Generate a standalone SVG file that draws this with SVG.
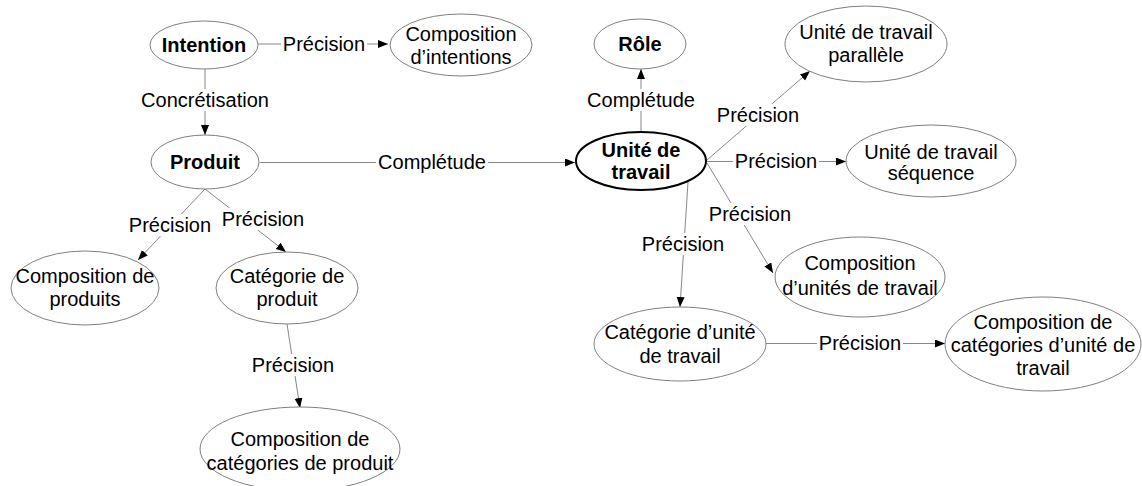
<svg xmlns="http://www.w3.org/2000/svg" width="1142" height="486" viewBox="0 0 1142 486">
<style>
text{font-family:"Liberation Sans",Arial,sans-serif;font-size:20px;fill:#000;text-anchor:middle}
.b{font-weight:bold}
.node{fill:#fff;stroke:#808080;stroke-width:1}
.main{fill:#fff;stroke:#000;stroke-width:2}
.edge{fill:none;stroke:#888;stroke-width:1;marker-end:url(#arr)}
.lbg{fill:#fff;stroke:none}
</style>
<defs>
<marker id="arr" markerUnits="userSpaceOnUse" markerWidth="11" markerHeight="9" refX="10" refY="4" orient="auto">
<path d="M0,0 L10,4 L0,8 z" fill="#000"/>
</marker>
</defs>
<g id="connectors">
<path class="edge" d="M258,44 L388,44"/>
<path class="edge" d="M205,69 L205,135"/>
<path class="edge" d="M260,162.5 L575,162.5"/>
<path class="edge" d="M641,132 L641,69"/>
<path class="edge" d="M707,160 L810,71"/>
<path class="edge" d="M707,161.5 L846,161.5"/>
<path class="edge" d="M707,163 L773,273"/>
<path class="edge" d="M688,182 L680,307"/>
<path class="edge" d="M766,343.5 L945,343.5"/>
<path class="edge" d="M205,189 L138,260"/>
<path class="edge" d="M205,189 L286,252"/>
<path class="edge" d="M287,324 L300,408"/>
<g id="labels">
<rect class="lbg" x="281" y="33" width="86" height="22"/><text x="324" y="51">Précision</text>
<rect class="lbg" x="139" y="89" width="132" height="22"/><text x="205" y="107">Concrétisation</text>
<rect class="lbg" x="376" y="151" width="112" height="22"/><text x="432" y="169">Complétude</text>
<rect class="lbg" x="585" y="89" width="112" height="22"/><text x="641" y="107">Complétude</text>
<rect class="lbg" x="715" y="104" width="86" height="22"/><text x="758" y="122">Précision</text>
<rect class="lbg" x="733" y="150" width="86" height="22"/><text x="776" y="168">Précision</text>
<rect class="lbg" x="707" y="203" width="86" height="22"/><text x="750" y="221">Précision</text>
<rect class="lbg" x="640" y="233" width="86" height="22"/><text x="683" y="251">Précision</text>
<rect class="lbg" x="817" y="332" width="86" height="22"/><text x="860" y="350">Précision</text>
<rect class="lbg" x="127" y="214" width="86" height="22"/><text x="170" y="232">Précision</text>
<rect class="lbg" x="220" y="208" width="86" height="22"/><text x="263" y="226">Précision</text>
<rect class="lbg" x="250" y="354" width="86" height="22"/><text x="293" y="372">Précision</text>
</g>
</g>
<g id="n-intention"><ellipse class="node" cx="204" cy="45" rx="54" ry="24"/><text class="b" x="204" y="52">Intention</text></g>
<g id="n-comp-intentions"><ellipse class="node" cx="461" cy="45" rx="71" ry="31"/><text x="461" y="41">Composition</text><text x="461" y="64">d’intentions</text></g>
<g id="n-produit"><ellipse class="node" cx="205" cy="162" rx="54" ry="27"/><text class="b" x="205" y="169">Produit</text></g>
<g id="n-comp-produits"><ellipse class="node" cx="85" cy="288" rx="74" ry="37"/><text x="85" y="283">Composition de</text><text x="85" y="306">produits</text></g>
<g id="n-cat-produit"><ellipse class="node" cx="287" cy="288" rx="71" ry="36"/><text x="287" y="283">Catégorie de</text><text x="287" y="306">produit</text></g>
<g id="n-comp-cat-produit"><ellipse class="node" cx="300" cy="449" rx="100" ry="42"/><text x="300" y="446">Composition de</text><text x="300" y="470">catégories de produit</text></g>
<g id="n-role"><ellipse class="node" cx="640" cy="44" rx="46" ry="25"/><text class="b" x="640" y="51">Rôle</text></g>
<g id="n-unite"><ellipse class="main" cx="641" cy="161" rx="65" ry="29"/><text class="b" x="641" y="157">Unité de</text><text class="b" x="641" y="179">travail</text></g>
<g id="n-parallele"><ellipse class="node" cx="866" cy="44" rx="81" ry="38"/><text x="866" y="39">Unité de travail</text><text x="866" y="62">parallèle</text></g>
<g id="n-sequence"><ellipse class="node" cx="931" cy="161" rx="85" ry="36"/><text x="931" y="159">Unité de travail</text><text x="931" y="180">séquence</text></g>
<g id="n-comp-unites"><ellipse class="node" cx="860" cy="277" rx="85" ry="40"/><text x="860" y="270">Composition</text><text x="860" y="295">d’unités de travail</text></g>
<g id="n-cat-unite"><ellipse class="node" cx="680" cy="344" rx="86" ry="37"/><text x="680" y="339">Catégorie d’unité</text><text x="680" y="363">de travail</text></g>
<g id="n-comp-cat-unite"><ellipse class="node" cx="1043" cy="344" rx="98" ry="47"/><text x="1043" y="329">Composition de</text><text x="1043" y="352">catégories d’unité de</text><text x="1043" y="375">travail</text></g>
</svg>
